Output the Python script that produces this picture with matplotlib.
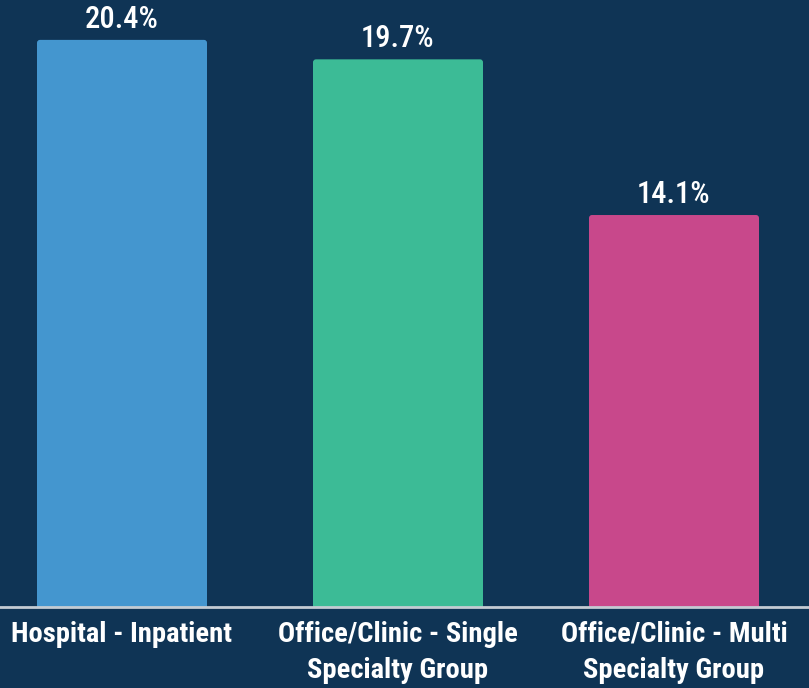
import matplotlib
matplotlib.use("Agg")
import matplotlib.pyplot as plt
from matplotlib import font_manager
from matplotlib.patches import FancyBboxPatch

categories = ["Hospital - Inpatient", "Office/Clinic - Single\nSpecialty Group", "Office/Clinic - Multi\nSpecialty Group"]
values = [20.4, 19.7, 14.1]
colors = ["#4496CF", "#3CBB96", "#C8488B"]

names = {f.name for f in font_manager.fontManager.ttflist}
fam = [n for n in ["Roboto Condensed", "Liberation Sans Narrow", "Roboto", "DejaVu Sans"] if n in names]
plt.rcParams['font.family'] = fam

bg = "#0F3455"
fig = plt.figure(figsize=(8.09, 6.88), dpi=100, facecolor=bg)
ax = fig.add_axes([0, 81/688, 1, 607/688])
ax.set_facecolor(bg)
x = list(range(len(values)))
bars = ax.bar(x, values, width=170/276, color=colors, zorder=2)
ax.set_xlim(-122/276, (809-122)/276)
ax.set_ylim(0, 607/27.8)
# rounded tops
px_x = 1/276
px_y = 1/27.8
for b, c in zip(bars, colors):
    b.set_visible(False)
    p = FancyBboxPatch((b.get_x(), b.get_y() - 0.2), b.get_width(), b.get_height() + 0.2,
                       boxstyle=f"round,pad=0,rounding_size={3*px_x}",
                       mutation_aspect=px_y/px_x, facecolor=c, edgecolor="none", zorder=2)
    ax.add_patch(p)
for b, v in zip(bars, values):
    ax.text(b.get_x()+b.get_width()/2, v + 0.22, f"{v}%", ha="center", va="bottom",
            color="white", fontsize=22, fontweight="medium")
ax.set_xticks(x)
ax.set_xticklabels(categories, color="white", fontsize=20.5, fontweight="bold", linespacing=1.45)
ax.tick_params(axis="x", length=0, pad=10)
ax.set_yticks([])
for s in ["top", "right", "left"]:
    ax.spines[s].set_visible(False)
ax.spines["bottom"].set_color("#C3CBD3")
ax.spines["bottom"].set_linewidth(2)
ax.spines["bottom"].set_zorder(3)
fig.savefig("out.png", dpi=100, facecolor=bg)
